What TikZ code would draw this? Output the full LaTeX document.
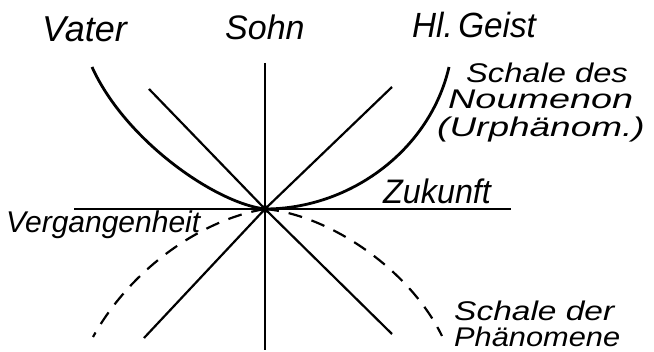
\documentclass[tikz,border=0pt]{standalone}
\usepackage{fontspec}
\setmainfont{Liberation Sans}
\newcommand{\wide}[2]{\scalebox{#1}[1]{#2}}
\begin{document}
\begin{tikzpicture}[x=1pt,y=-1pt,
  lbl/.style={anchor=base west,inner sep=0pt,font=\fontsize{33}{33}\selectfont\itshape},
  small/.style={lbl,font=\fontsize{27}{27}\selectfont\itshape},
  axis/.style={line width=2.4pt},
  shell/.style={line width=2.8pt},
  diag/.style={line width=2.2pt},
  dashshell/.style={line width=2.2pt,dash pattern=on 14pt off 10pt}]
\useasboundingbox (0,0) rectangle (654,352);
\coordinate (C) at (265,209);
% axes
\coordinate (vt) at (265,63);
\coordinate (vb) at (265,350);
\coordinate (hl) at (74,209);
\coordinate (hr) at (511,209);
\draw[axis] (vt) -- (vb);
\draw[axis] (hl) -- (hr);
% diagonals
\coordinate (ul) at (149,89);
\coordinate (ur) at (392,87);
\coordinate (ll) at (144,338);
\coordinate (lr) at (392,334);
\draw[diag] (ul) -- (C);
\draw[diag] (ur) -- (C);
\draw[diag] (C) -- (ll);
\draw[diag] (C) -- (lr);
% upper shell (Noumenon)
\coordinate (pl) at (92,67);
\coordinate (pr) at (449,67);
\draw[shell] (pl) .. controls (125,140) and (215,203) .. (C)
  .. controls (350,209) and (430,150) .. (pr);
% lower shell (Phaenomene), dashed
\coordinate (dl) at (93,337);
\coordinate (dr) at (442,336);
\draw[dashshell] (C) .. controls (200,220) and (130,270) .. (dl);
\draw[dashshell] (C) .. controls (330,215) and (410,270) .. (dr);
\fill (C) circle (4);
% labels
\node[lbl,font=\fontsize{36}{36}\selectfont\itshape] (vater) at (42,42) {Vater};
\node[lbl,font=\fontsize{34}{34}\selectfont\itshape] (sohn) at (225,40) {Sohn};
\node[lbl,font=\fontsize{35}{35}\selectfont\itshape] (geist) at (412,38) {\wide{0.95}{Hl.\,Geist}};
\node[small] (noum1) at (466,83) {\wide{1.21}{Schale des}};
\node[small] (noum2) at (448,109) {\wide{1.4}{Noumenon}};
\node[small] (noum3) at (437,137) {\wide{1.37}{(Urphänom.)}};
\node[lbl,font=\fontsize{34}{34}\selectfont\itshape] (zuk) at (383,204) {\wide{0.95}{Zukunft}};
\node[lbl,font=\fontsize{30}{30}\selectfont\itshape] (verg) at (6,233) {Vergangenheit};
\node[small] (phaen1) at (454,321) {\wide{1.24}{Schale der}};
\node[small] (phaen2) at (454,347) {\wide{1.14}{Phänomene}};
\end{tikzpicture}
\end{document}
